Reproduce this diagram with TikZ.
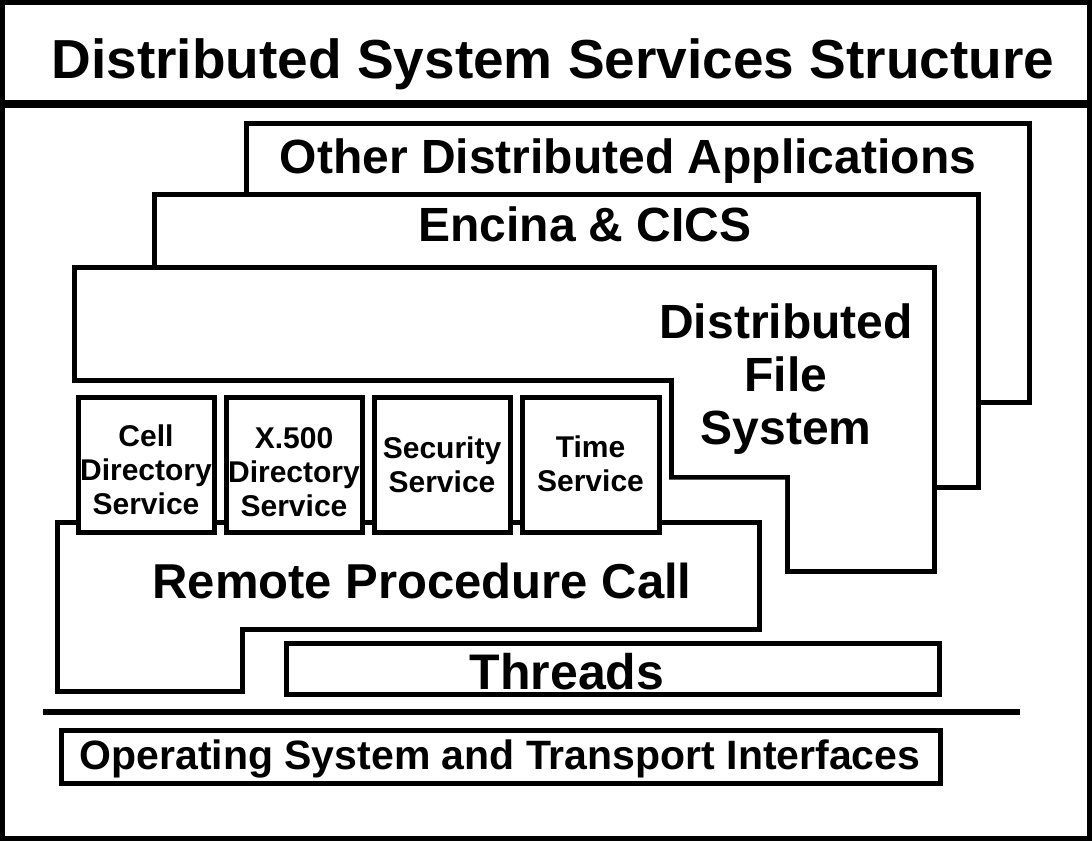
\documentclass[tikz,border=0pt]{standalone}
\usepackage{fontspec}
\setmainfont{Liberation Sans}
\newcommand{\lblfont}[2]{\fontsize{#1}{#2}\selectfont\bfseries}
\tikzset{
	layer/.style={draw, fill=white, line width=5pt, line join=miter},
	lbl/.style={inner sep=0pt, align=center},
}

\begin{document}
\begin{tikzpicture}[x=1pt,y=-1pt]
	\useasboundingbox (0,0) rectangle (1092,841);
	\draw[line width=5pt] (2.5,2.5) rectangle (1089.5,838.5);
	\draw[line width=8pt] (0,104) -- (1092,104);
	\node[lbl, anchor=base, font=\lblfont{55}{60}] (title) at (553,78) {Distributed System Services Structure};

	% layers, back to front
	\filldraw[layer] (246,123) rectangle (1029,402);
	\node[lbl, anchor=base, font=\lblfont{48}{52}] (apps) at (628,173) {Other Distributed Applications};

	\filldraw[layer] (154.5,194.5) rectangle (978.5,487.5);
	\node[lbl, anchor=base, font=\lblfont{48}{52}] (encina) at (585,241) {Encina \& CICS};

	\filldraw[layer] (74.5,267) -- (934,267) -- (934,571.5) -- (787.5,571.5) -- (787.5,477)
		-- (671,477) -- (671,380.5) -- (74.5,380.5) -- cycle;
	\node[lbl, font=\lblfont{48}{53}] (dfs) at (786,379) {Distributed\\File\\System};
	% hide what lies behind, under the file system layer
	\fill[white] (72,383) -- (668.5,383) -- (668.5,479.5) -- (785,479.5) -- (785,520) -- (72,520) -- cycle;

	\filldraw[layer] (57,522) -- (759,522) -- (759,629.5) -- (242,629.5) -- (242,691.5)
		-- (57,691.5) -- cycle;
	\node[lbl, anchor=base, font=\lblfont{49}{52}] (rpc) at (422,598) {Remote Procedure Call};

	% service boxes on top of the RPC layer
	\foreach \xa/\xb/\ym/\name/\txt in {
		78/214/470/cds/{Cell\\Directory\\Service},
		226/362/472/xds/{X.500\\Directory\\Service},
		374/510/465/sec/{Security\\Service},
		522/659/464/time/{Time\\Service}}{
		\filldraw[layer] (\xa,397) rectangle (\xb,532);
		\node[lbl, font=\lblfont{30}{34}] (\name) at ({(\xa+\xb)/2},\ym) {\txt};
	}

	\filldraw[layer] (286,643) rectangle (939,694);
	\node[lbl, anchor=base, font=\lblfont{50}{52}] (threads) at (567,689) {Threads};

	\draw[line width=6pt] (43,712) -- (1020,712);
	\filldraw[layer] (61,730) rectangle (940,783);
	\node[lbl, anchor=base, font=\lblfont{41}{44}] (os) at (500,769) {Operating System and Transport Interfaces};
\end{tikzpicture}
\end{document}
